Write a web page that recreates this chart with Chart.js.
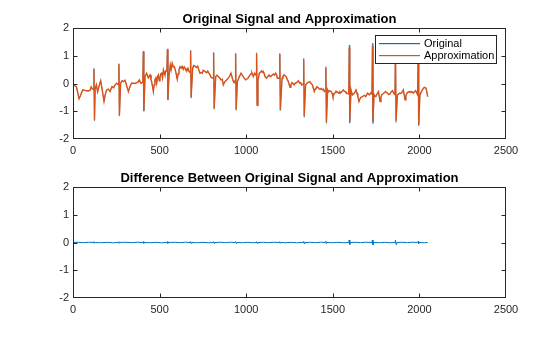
<!DOCTYPE html>
<html><head><meta charset="utf-8">
<script src="https://cdn.jsdelivr.net/npm/chart.js@4"></script>
<style>
html,body{margin:0;padding:0;background:#fff;width:560px;height:337px;overflow:hidden}
canvas{position:absolute;left:0}
#c1{top:0}
#c2{top:168px}
</style></head>
<body>
<canvas id="c1" width="560" height="168"></canvas>
<canvas id="c2" width="560" height="169"></canvas>
<script>
const xTickValues = [0, 500, 1000, 1500, 2000, 2500];
const yTickValues = [-2, -1, 0, 1, 2];
const titles = ['Original Signal and Approximation', 'Difference Between Original Signal and Approximation'];
const seriesLabels = ['Original', 'Approximation'];
const seriesColors = ['#0072BD', '#D95319'];

const sampleIdx = [1,10,20,28,35,42,56,70,85,98,105,112,118,121,124,128,135,142,150,160,168,179,186,194,204,214,225,235,243,252,262,265,268,275,283,291,300,306,313,320,327,333,340,348,358,368,376,383,388,393,403,406,409,416,425,435,445,450,454,459,464,468,473,478,483,488,493,498,502,507,512,517,522,527,531,535,542,545,548,554,562,567,573,579,585,593,602,607,612,618,624,630,637,642,647,652,658,664,670,676,679,682,691,697,704,712,720,726,733,740,747,752,758,765,772,778,785,792,797,809,812,815,824,831,839,847,854,862,868,877,885,891,897,903,912,918,922,930,936,939,942,949,955,960,965,970,977,983,990,997,1004,1010,1016,1022,1028,1033,1041,1049,1057,1060,1063,1068,1076,1082,1089,1094,1099,1104,1109,1118,1125,1132,1138,1143,1150,1157,1163,1170,1176,1180,1191,1194,1197,1207,1212,1218,1224,1230,1237,1243,1253,1258,1264,1270,1276,1282,1287,1294,1301,1309,1315,1320,1329,1332,1335,1343,1349,1355,1362,1368,1375,1382,1393,1398,1403,1408,1413,1420,1426,1433,1440,1446,1451,1457,1460,1463,1470,1475,1480,1490,1496,1501,1507,1513,1518,1524,1530,1536,1541,1547,1554,1561,1566,1571,1576,1580,1592,1595,1598,1605,1613,1618,1624,1629,1634,1640,1644,1651,1657,1663,1669,1676,1683,1690,1696,1701,1706,1711,1716,1721,1726,1729,1732,1738,1744,1749,1753,1758,1763,1768,1773,1778,1782,1788,1794,1800,1805,1811,1817,1824,1830,1837,1844,1850,1855,1859,1862,1865,1873,1879,1884,1891,1898,1903,1907,1912,1917,1922,1928,1934,1940,1946,1951,1958,1965,1971,1978,1984,1990,1993,1996,2003,2010,2017,2023,2028,2033,2038,2043,2048];

const originalSignal = [-0.05,-0.08,-0.12,-0.35,-0.55,-0.45,-0.23,-0.25,-0.27,-0.25,-0.12,-0.2,-0.22,0.55,-1.35,-0.2,-0.05,-0.3,-0.1,0.1,-0.2,-0.65,-0.4,-0.23,-0.2,-0.29,-0.11,-0.15,-0.05,0.01,-0.05,0.72,-1.18,0.01,0.1,0.07,0.12,0.0,-0.15,-0.29,-0.15,-0.05,0.02,0.01,0.0,0.03,0.05,0.13,0.05,0.01,0.05,1.17,-1.0,0.25,0.37,0.2,0.31,0.15,0.07,-0.1,-0.29,-0.05,0.13,0.2,0.01,0.25,0.31,0.1,0.19,0.35,0.37,0.2,0.49,0.38,0.31,0.45,0.45,1.25,-0.6,0.25,0.67,0.5,0.73,0.6,0.61,0.43,0.15,0.35,0.49,0.6,0.55,0.62,0.51,0.6,0.55,0.48,0.46,0.55,0.43,0.4,1.21,-0.53,0.55,0.65,0.63,0.58,0.63,0.5,0.37,0.4,0.37,0.48,0.46,0.42,0.39,0.45,0.37,0.3,0.22,0.19,1.13,-0.93,0.25,0.3,0.25,0.2,0.13,0.15,-0.05,0.07,0.12,0.15,0.2,0.25,0.37,0.25,0.13,0.03,0.1,1.1,-0.97,0.07,0.15,0.25,0.3,0.37,0.3,0.25,0.18,0.13,0.16,0.19,0.25,0.31,0.35,0.39,0.25,0.37,0.3,1.11,-0.81,0.13,0.37,0.4,0.46,0.4,0.43,0.35,0.25,0.19,0.25,0.31,0.25,0.27,0.3,0.34,0.3,0.37,0.3,0.19,0.2,1.09,-0.98,0.19,0.25,0.31,0.28,0.25,0.15,0.07,-0.14,-0.05,0.03,0.0,-0.05,0.01,0.03,0.05,0.1,0.01,0.03,-0.05,-0.02,0.91,-1.22,-0.05,0.0,0.03,0.05,0.07,0.0,-0.05,-0.29,-0.2,-0.17,-0.12,-0.14,-0.18,-0.21,-0.18,-0.23,-0.2,-0.29,-0.25,0.61,-1.44,-0.23,-0.3,-0.26,-0.29,-0.35,-0.47,-0.38,-0.33,-0.28,-0.29,-0.33,-0.35,-0.3,-0.33,-0.28,-0.23,-0.28,-0.29,-0.33,-0.35,-0.38,1.39,-1.43,-0.23,-0.41,-0.38,-0.35,-0.3,-0.23,-0.35,-0.45,-0.65,-0.55,-0.5,-0.48,-0.45,-0.43,-0.47,-0.4,-0.35,-0.38,-0.41,-0.37,-0.33,-0.38,1.45,-1.44,-0.4,-0.47,-0.45,-0.41,-0.35,-0.29,-0.45,-0.65,-0.5,-0.41,-0.38,-0.35,-0.32,-0.29,-0.33,-0.35,-0.4,-0.38,-0.3,-0.26,-0.33,-0.38,-0.4,1.4,-1.41,-0.41,-0.38,-0.35,-0.36,-0.33,-0.28,-0.23,-0.4,-0.59,-0.45,-0.35,-0.31,-0.29,-0.32,-0.29,-0.3,-0.35,-0.3,-0.26,-0.33,-0.41,1.3,-1.52,-0.41,-0.32,-0.23,-0.18,-0.14,-0.15,-0.17,-0.3,-0.47];

const approximation = [-0.05,-0.08,-0.12,-0.35,-0.55,-0.45,-0.23,-0.25,-0.27,-0.25,-0.12,-0.2,-0.22,0.52,-1.32,-0.2,-0.05,-0.3,-0.1,0.1,-0.2,-0.65,-0.4,-0.23,-0.2,-0.29,-0.11,-0.15,-0.05,0.01,-0.05,0.69,-1.15,0.01,0.1,0.07,0.12,0.0,-0.15,-0.29,-0.15,-0.05,0.02,0.01,0.0,0.03,0.05,0.13,0.05,0.01,0.05,1.14,-0.97,0.25,0.37,0.2,0.31,0.15,0.07,-0.1,-0.29,-0.05,0.13,0.2,0.01,0.25,0.31,0.1,0.19,0.35,0.37,0.2,0.49,0.38,0.31,0.45,0.45,1.22,-0.57,0.25,0.67,0.5,0.73,0.6,0.61,0.43,0.15,0.35,0.49,0.6,0.55,0.62,0.51,0.6,0.55,0.48,0.46,0.55,0.43,0.4,1.18,-0.5,0.55,0.65,0.63,0.58,0.63,0.5,0.37,0.4,0.37,0.48,0.46,0.42,0.39,0.45,0.37,0.3,0.22,0.19,1.1,-0.9,0.25,0.3,0.25,0.2,0.13,0.15,-0.05,0.07,0.12,0.15,0.2,0.25,0.37,0.25,0.13,0.03,0.1,1.07,-0.94,0.07,0.15,0.25,0.3,0.37,0.3,0.25,0.18,0.13,0.16,0.19,0.25,0.31,0.35,0.39,0.25,0.37,0.3,1.08,-0.78,0.13,0.37,0.4,0.46,0.4,0.43,0.35,0.25,0.19,0.25,0.31,0.25,0.27,0.3,0.34,0.3,0.37,0.3,0.19,0.2,1.06,-0.95,0.19,0.25,0.31,0.28,0.25,0.15,0.07,-0.14,-0.05,0.03,0.0,-0.05,0.01,0.03,0.05,0.1,0.01,0.03,-0.05,-0.02,0.87,-1.18,-0.05,0.0,0.03,0.05,0.07,0.0,-0.05,-0.29,-0.2,-0.17,-0.12,-0.14,-0.18,-0.21,-0.18,-0.23,-0.2,-0.29,-0.25,0.57,-1.4,-0.23,-0.3,-0.26,-0.29,-0.35,-0.47,-0.38,-0.33,-0.28,-0.29,-0.33,-0.35,-0.3,-0.33,-0.28,-0.23,-0.28,-0.29,-0.33,-0.35,-0.38,1.3,-1.36,-0.23,-0.41,-0.38,-0.35,-0.3,-0.23,-0.35,-0.45,-0.65,-0.55,-0.5,-0.48,-0.45,-0.43,-0.47,-0.4,-0.35,-0.38,-0.41,-0.37,-0.33,-0.38,1.36,-1.36,-0.4,-0.47,-0.45,-0.41,-0.35,-0.29,-0.45,-0.65,-0.5,-0.41,-0.38,-0.35,-0.32,-0.29,-0.33,-0.35,-0.4,-0.38,-0.3,-0.26,-0.33,-0.38,-0.4,1.32,-1.34,-0.41,-0.38,-0.35,-0.36,-0.33,-0.28,-0.23,-0.4,-0.59,-0.45,-0.35,-0.31,-0.29,-0.32,-0.29,-0.3,-0.35,-0.3,-0.26,-0.33,-0.41,1.26,-1.48,-0.41,-0.32,-0.23,-0.18,-0.14,-0.15,-0.17,-0.3,-0.47];

const diffIdx = [1,30,60,90,118,121,124,128,160,200,230,262,265,268,272,300,340,370,403,406,409,413,450,480,510,542,545,548,552,590,620,650,676,679,682,686,720,750,780,809,812,815,819,850,880,910,936,939,942,946,980,1010,1040,1057,1060,1063,1067,1100,1130,1160,1191,1194,1197,1201,1230,1260,1290,1329,1332,1335,1339,1370,1400,1430,1457,1460,1463,1467,1500,1530,1560,1592,1595,1598,1602,1630,1660,1690,1726,1729,1732,1736,1770,1800,1830,1859,1862,1865,1869,1900,1930,1960,1990,1993,1996,2000,2030,2048];
const diffValues = [0,0.008,-0.006,0.01,0,0.03,-0.03,0,-0.008,0.006,-0.01,0,0.03,-0.03,0,0.008,-0.006,0.01,0,0.03,-0.03,0,-0.008,0.006,-0.01,0,0.03,-0.03,0,0.008,-0.006,0.01,0,0.03,-0.03,0,-0.008,0.006,-0.01,0,0.03,-0.03,0,0.008,-0.006,0.01,0,0.03,-0.03,0,-0.008,0.006,-0.01,0,0.03,-0.03,0,0.008,-0.006,0.01,0,0.03,-0.03,0,-0.008,0.006,-0.01,0,0.04,-0.04,0,0.008,-0.006,0.01,0,0.04,-0.04,0,-0.008,0.006,-0.01,0,0.09,-0.07,0,0.008,-0.006,0.01,0,0.09,-0.08,0,-0.008,0.006,-0.01,0,0.08,-0.07,0,0.008,-0.006,0.01,0,0.04,-0.04,0,-0.008,0];

const FONT = "'Liberation Sans', Arial, Helvetica, sans-serif";
const TXT = '#262626';
Chart.defaults.font.family = FONT;
Chart.defaults.font.size = 11;
Chart.defaults.color = TXT;

const framePlugin = {
  id: 'frame',
  afterDraw(chart, args, opts) {
    const {ctx, chartArea: a, scales: {x, y}} = chart;
    ctx.save();
    ctx.globalAlpha = 1;
    ctx.setLineDash([]);
    ctx.strokeStyle = TXT;
    ctx.lineWidth = 1;
    const L = Math.round(a.left) + 0.5, R = Math.round(a.right) - 0.5;
    const T = Math.round(a.top) + 0.5, B = Math.round(a.bottom) - 0.5;
    ctx.strokeRect(L, T, R - L, B - T);
    const tl = 4;
    ctx.beginPath();
    xTickValues.forEach(v => {
      const p = Math.min(R, Math.max(L, Math.round(x.getPixelForValue(v)) + 0.5));
      ctx.moveTo(p, B); ctx.lineTo(p, B - tl);
      ctx.moveTo(p, T); ctx.lineTo(p, T + tl);
    });
    yTickValues.forEach(v => {
      const p = Math.min(B, Math.max(T, Math.round(y.getPixelForValue(v)) + 0.5));
      ctx.moveTo(L, p); ctx.lineTo(L + tl, p);
      ctx.moveTo(R, p); ctx.lineTo(R - tl, p);
    });
    ctx.stroke();
    ctx.fillStyle = '#000';
    ctx.font = 'bold 13px ' + FONT;
    ctx.textAlign = 'center';
    ctx.textBaseline = 'alphabetic';
    ctx.fillText(opts.title, (a.left + a.right) / 2, a.top - 5);
    if (opts.legend) {
      const bx = 375.5, by = 35.5, bw = 121, bh = 28;
      ctx.fillStyle = '#fff';
      ctx.fillRect(bx, by, bw, bh);
      ctx.strokeStyle = TXT;
      ctx.strokeRect(bx, by, bw, bh);
      ctx.font = '11px ' + FONT;
      ctx.textAlign = 'left';
      ctx.textBaseline = 'middle';
      seriesLabels.forEach((lab, k) => {
        const yy = 43 + k * 12;
        ctx.fillStyle = seriesColors[k];
        ctx.fillRect(379, yy, 41, 1.2);
        ctx.fillStyle = '#000';
        ctx.fillText(lab, 424, yy + 0.5);
      });
    }
    ctx.restore();
  }
};

function scales(xh) {
  return {
    x: {
      type: 'linear', min: 0, max: 2500,
      afterBuildTicks: s => { s.ticks = xTickValues.map(v => ({value: v})); },
      afterFit: s => { s.height = xh; },
      grid: {display: false, drawTicks: false},
      border: {display: false},
      ticks: {padding: 5, maxRotation: 0, autoSkip: false, color: TXT, font: {size: 11},
        callback: v => String(v)}
    },
    y: {
      type: 'linear', min: -2, max: 2,
      afterBuildTicks: s => { s.ticks = yTickValues.map(v => ({value: v})); },
      afterFit: s => { s.width = 73; },
      grid: {display: false, drawTicks: false},
      border: {display: false},
      ticks: {padding: 4, color: TXT, font: {size: 11}, callback: v => String(v)}
    }
  };
}

new Chart(document.getElementById('c1'), {
  type: 'line',
  data: {
    datasets: [
      {label: seriesLabels[0], data: sampleIdx.map((v, i) => ({x: v, y: originalSignal[i]})),
       borderColor: seriesColors[0], borderWidth: 0.5, pointRadius: 0, tension: 0, order: 2},
      {label: seriesLabels[1], data: sampleIdx.map((v, i) => ({x: v, y: approximation[i]})),
       borderColor: seriesColors[1], borderWidth: 1.4, pointRadius: 0, tension: 0, order: 1}
    ]
  },
  options: {
    responsive: false, animation: false, devicePixelRatio: 1,
    layout: {padding: {left: 0, top: 28, right: 54, bottom: 0}},
    scales: scales(29),
    plugins: {legend: {display: false}, tooltip: {enabled: false},
      frame: {title: titles[0], legend: true}}
  },
  plugins: [framePlugin]
});

new Chart(document.getElementById('c2'), {
  type: 'line',
  data: {
    datasets: [
      {label: 'Difference', data: diffIdx.map((v, i) => ({x: v, y: diffValues[i]})),
       borderColor: seriesColors[0], borderWidth: 1, pointRadius: 0, tension: 0}
    ]
  },
  options: {
    responsive: false, animation: false, devicePixelRatio: 1,
    layout: {padding: {left: 0, top: 19, right: 54, bottom: 0}},
    scales: scales(39),
    plugins: {legend: {display: false}, tooltip: {enabled: false},
      frame: {title: titles[1], legend: false}}
  },
  plugins: [framePlugin]
});
</script>
</body></html>
